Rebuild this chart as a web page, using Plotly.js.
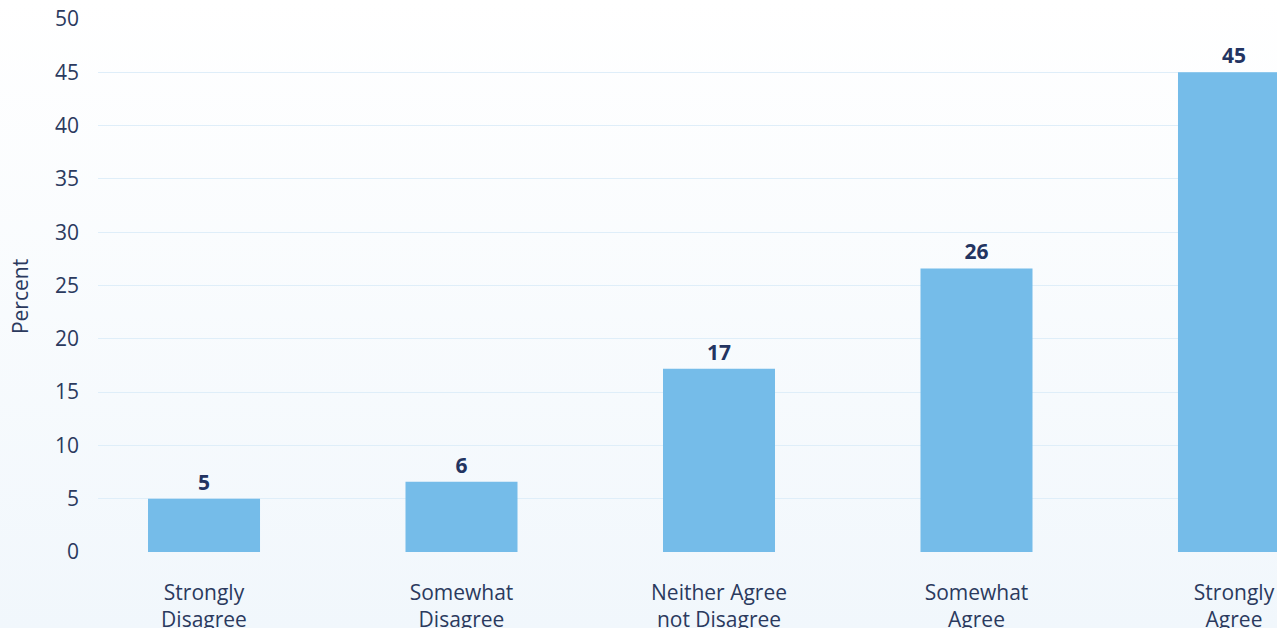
<!DOCTYPE html>
<html>
<head>
<meta charset="utf-8">
<script src="https://cdn.plot.ly/plotly-3.0.1.min.js"></script>
<style>
  html, body { margin: 0; padding: 0; overflow: hidden; width: 1277px; height: 628px;
    background: linear-gradient(to bottom, #ffffff 0%, #f1f7fc 100%); }
  #chart { width: 1277px; height: 660px; }
</style>
</head>
<body>
<div id="chart"></div>
<script>
const categories = ["Strongly<br>Disagree", "Somewhat<br>Disagree", "Neither Agree<br>not Disagree", "Somewhat<br>Agree", "Strongly<br>Agree"];
const values = [5.0, 6.6, 17.2, 26.6, 45.0];
const valueLabels = ["5", "6", "17", "26", "45"];
const yTicks = [0, 5, 10, 15, 20, 25, 30, 35, 40, 45, 50];
const yTitle = "Percent";

const textColor = "#2b3a5e";

const trace = {
  type: "bar",
  x: categories,
  y: values,
  text: valueLabels,
  textposition: "outside",
  textfont: { family: "Open Sans", size: 21, color: "#233461", weight: "bold" },
  marker: { color: "#75bce9" },
  width: 0.435,
  cliponaxis: false,
  hoverinfo: "skip"
};

const layout = {
  width: 1277,
  height: 660,
  margin: { l: 98, r: 0, t: 19, b: 108 },
  paper_bgcolor: "rgba(0,0,0,0)",
  plot_bgcolor: "rgba(0,0,0,0)",
  font: { family: "Open Sans", color: textColor, size: 21 },
  showlegend: false,
  xaxis: {
    type: "category",
    range: [-0.4117, 4.167],
    showgrid: false,
    zeroline: false,
    showline: false,
    ticks: "",
    tickfont: { family: "Open Sans", size: 21, color: textColor },
    ticklabelstandoff: 26
  },
  yaxis: {
    range: [0, 50],
    tickvals: yTicks,
    showgrid: true,
    gridcolor: "#dfeef9",
    gridwidth: 1,
    zeroline: false,
    showline: false,
    ticks: "",
    tickfont: { family: "Open Sans", size: 21, color: textColor },
    ticklabelstandoff: 18
  },
  annotations: [{
    text: yTitle,
    xref: "paper", yref: "paper",
    x: -0.0662, y: 0.48,
    xanchor: "center", yanchor: "middle",
    textangle: -90,
    showarrow: false,
    font: { family: "Open Sans", size: 21, color: textColor }
  }]
};

Plotly.newPlot("chart", [trace], layout, { displayModeBar: false, staticPlot: true });
</script>
</body>
</html>
